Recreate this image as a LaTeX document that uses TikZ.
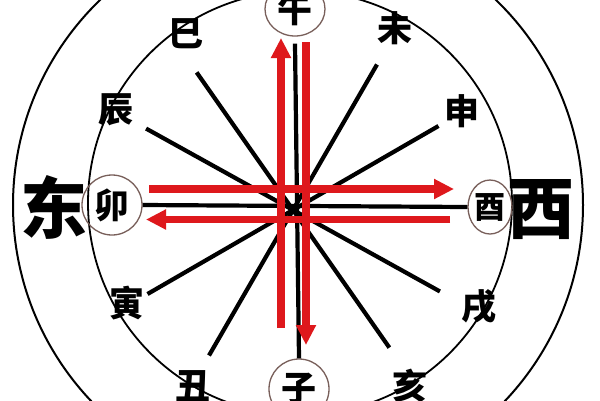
\documentclass[tikz,border=0pt]{standalone}
\usepackage{fontspec}
\newfontfamily\cjk{Noto Sans CJK SC}
\usetikzlibrary{arrows.meta,shapes.geometric,calc}
\definecolor{arrred}{RGB}{222,24,28}
\definecolor{ringcol}{RGB}{120,95,90}
\begin{document}
\begin{tikzpicture}[x=1pt,y=-1pt,
  blk/.style={line width=4.2pt, draw=black},
  redarr/.style={line width=7.5pt, draw=arrred, -{Triangle[length=20pt,width=19pt]}},
  ring/.style={draw=ringcol, line width=1.3pt, inner sep=0pt},
  lbl/.style={inner sep=0pt, font=\cjk\bfseries\fontsize{35}{35}\selectfont},
  lblsmall/.style={inner sep=0pt, font=\cjk\bfseries\fontsize{31}{31}\selectfont},
  big/.style={inner sep=0pt, font=\cjk\bfseries\fontsize{67}{67}\selectfont}]
\useasboundingbox (0,0) rectangle (600,400);
\fill[white] (0,0) rectangle (600,400);
\begin{scope}
\clip (0,0) rectangle (600,400);
% circles
\draw[line width=2pt] (298,205) circle[radius=285];
\draw[line width=1.8pt] (300,203) circle[radius=212];
% ring nodes
\node[ring, circle, minimum size=60pt, lbl] (mao) at (112,205) {卯};
\node[ring, ellipse, minimum width=44pt, minimum height=54pt, lblsmall] (you) at (490,207) {酉};
\node[ring, ellipse, minimum width=60pt, minimum height=54pt, lbl] (wu) at (295,9) {午};
\node[ring, circle, minimum size=60pt, lbl] (zi) at (299,389) {子};
% plain labels
\node[lbl] (si) at (186,34) {巳};
\node[lbl] (chen) at (116,110) {辰};
\node[lbl] (wei) at (395,28) {未};
\node[lbl] (shen) at (462,111) {申};
\node[lbl] (yin) at (127,303) {寅};
\node[lbl] (xu) at (479,307) {戌};
\node[lbl] (chou) at (193,386) {丑};
\node[lbl] (hai) at (410,386) {亥};
\node[big] (dong) at (54,207) {东};
\node[big] (xi) at (541,210) {西};
% black lines
\coordinate (c) at (293,210);
\draw[blk] (mao.east) -- (you.west);
\draw[blk] ([yshift=-7pt]wu.south) -- (zi.north);
\foreach \a in {55,29,120,150}{
  \draw[blk] ($(c)+(\a:168)$) -- ($(c)+(\a+180:168)$);
}
% red arrows
\coordinate (r1s) at (149,189); \coordinate (r1e) at (454,189);
\coordinate (r2s) at (450,219.5); \coordinate (r2e) at (146,219.5);
\coordinate (r3s) at (281,328); \coordinate (r3e) at (281,38);
\coordinate (r4s) at (306,42); \coordinate (r4e) at (306,345);
\draw[redarr] (r1s) -- (r1e);
\draw[redarr] (r2s) -- (r2e);
\draw[redarr] (r3s) -- (r3e);
\draw[redarr] (r4s) -- (r4e);
\end{scope}
\end{tikzpicture}
\end{document}
